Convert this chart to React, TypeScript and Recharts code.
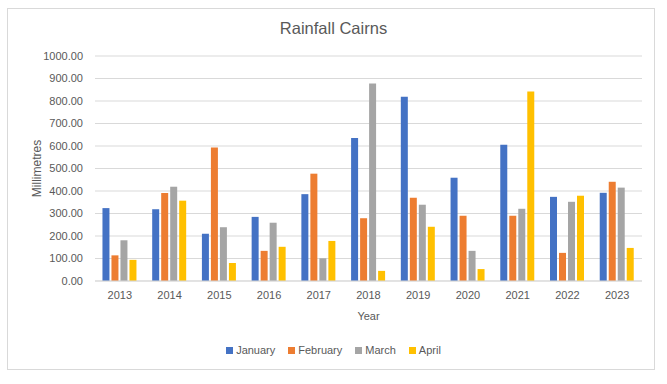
import React from 'react';
import { BarChart, Bar, XAxis, YAxis, CartesianGrid, Legend } from 'recharts';

const years = ['2013','2014','2015','2016','2017','2018','2019','2020','2021','2022','2023'];
const january = [324, 319, 210, 285, 386, 636, 819, 459, 606, 374, 392];
const february = [114, 391, 593, 134, 477, 279, 370, 290, 290, 125, 441];
const march = [181, 419, 239, 259, 101, 878, 339, 134, 321, 352, 415];
const april = [94, 357, 80, 152, 178, 45, 241, 53, 842, 379, 147];
const yTicks = [0, 100, 200, 300, 400, 500, 600, 700, 800, 900, 1000];

const seriesNames = ['January', 'February', 'March', 'April'];
const seriesColors = ['#4472C4', '#ED7D31', '#A5A5A5', '#FFC000'];
const seriesValues = [january, february, march, april];

const data = years.map((y, i) => {
  const row: Record<string, string | number> = { year: y };
  seriesNames.forEach((n, k) => { row[n] = seriesValues[k][i]; });
  return row;
});

const FONT = '"Liberation Sans", Arial, sans-serif';
const TXT = '#595959';

const LegendContent = () => (
  <div style={{ display: 'flex', justifyContent: 'center', alignItems: 'center', fontSize: 11, fontFamily: FONT, color: TXT }}>
    {seriesNames.map((n, k) => (
      <div key={n} style={{ display: 'flex', alignItems: 'center', marginRight: k < seriesNames.length - 1 ? 13 : 0 }}>
        <span style={{ display: 'inline-block', width: 7, height: 7, background: seriesColors[k], marginRight: 3 }} />
        <span>{n}</span>
      </div>
    ))}
  </div>
);

export default function App() {
  return (
    <div style={{ position: 'absolute', left: 0, top: 0, width: 667, height: 384, background: '#fff', fontFamily: FONT }}>
      <div style={{ position: 'absolute', left: 7, top: 8, width: 648, height: 362, border: '1px solid #d9d9d9', boxSizing: 'border-box' }} />
      <div style={{ position: 'absolute', left: 0, top: 19, width: 667, textAlign: 'center', fontSize: 16.5, color: TXT }}>
        Rainfall Cairns
      </div>
      <div style={{ position: 'absolute', left: 0, top: 0 }}>
        <BarChart
          width={667}
          height={384}
          data={data}
          margin={{ top: 56, right: 25, left: 20, bottom: 63 }}
          barCategoryGap="15%"
          barGap={2}
        >
          <CartesianGrid vertical={false} stroke="#d9d9d9" strokeWidth={1} />
          <XAxis
            dataKey="year"
            height={40}
            tickLine={false}
            axisLine={{ stroke: '#d9d9d9' }}
            tickSize={6}
            tickMargin={4}
            tick={{ fill: TXT, fontSize: 11, fontFamily: FONT }}
            label={{ value: 'Year', position: 'insideBottom', offset: 1, fill: TXT, fontSize: 11, fontFamily: FONT }}
          />
          <YAxis
            width={75}
            domain={[0, 1000]}
            ticks={yTicks}
            interval={0}
            tickFormatter={(v: number) => v.toFixed(2)}
            tickLine={false}
            axisLine={false}
            tickSize={6}
            tickMargin={6}
            tick={{ fill: TXT, fontSize: 11, fontFamily: FONT }}
            label={{ value: 'Millimetres', angle: -90, position: 'insideLeft', offset: 17, fill: TXT, fontSize: 12, fontFamily: FONT, style: { textAnchor: 'middle' } }}
          />
          {seriesNames.map((n, k) => (
            <Bar key={n} dataKey={n} fill={seriesColors[k]} isAnimationActive={false} />
          ))}
          <Legend
            layout="horizontal"
            verticalAlign="middle"
            align="center"
            wrapperStyle={{ top: 344, left: 0, width: 667 }}
            content={LegendContent}
          />
        </BarChart>
      </div>
    </div>
  );
}
